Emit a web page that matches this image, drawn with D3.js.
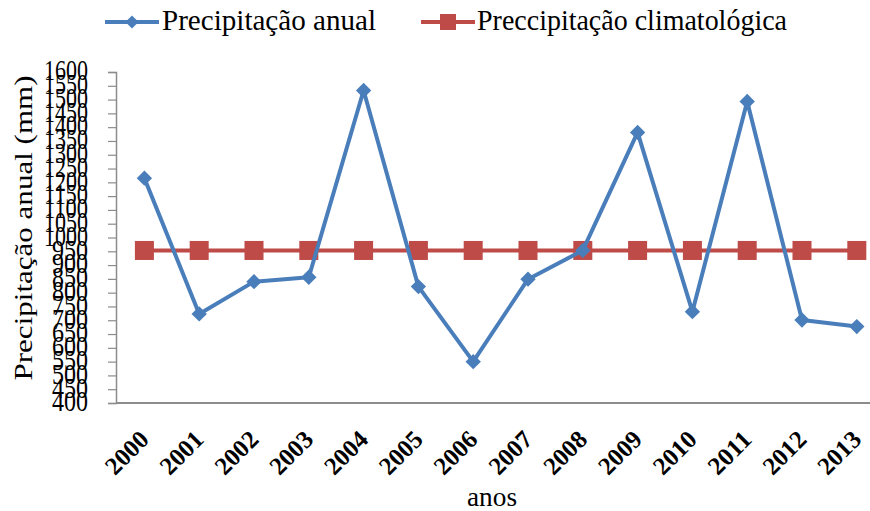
<!DOCTYPE html>
<html>
<head>
<meta charset="utf-8">
<script src="https://cdn.jsdelivr.net/npm/d3@7"></script>
<style>
  html, body { margin: 0; padding: 0; background: #fff; }
</style>
</head>
<body>
<div id="chart"></div>
<script>
// data
const years = ["2000", "2001", "2002", "2003", "2004", "2005", "2006",
  "2007", "2008", "2009", "2010", "2011", "2012", "2013"]
const annual = [1215, 723, 840, 856, 1533, 822, 550, 849, 953, 1381, 731, 1493, 701, 677]
const climatological = [953, 953, 953, 953, 953, 953, 953, 953, 953, 953, 953, 953, 953, 953]
const yTicks = [400, 450, 500, 550, 600, 650, 700, 750, 800, 850, 900, 950, 1000,
  1050, 1100, 1150, 1200, 1250, 1300, 1350, 1400, 1450, 1500, 1550, 1600]

const width = 870
const height = 511
const blue = "#4a7ebb"
const red = "#be4b48"
const axisColor = "#8c8c8c"
const serif = "'Liberation Serif', 'Times New Roman', Times, serif"

const svg = d3.select("#chart")
  .append("svg")
  .attr("width", width)
  .attr("height", height)
  .attr("font-family", serif)

svg.append("rect").attr("width", width).attr("height", height).attr("fill", "#fff")

// scales (the plot runs a little past the right edge, as in the picture)
const x = d3.scaleBand().domain(years).range([117, 117 + 14 * 54.8])
const cx = (d) => x(d) + x.bandwidth() / 2
const y = d3.scaleLinear().domain([400, 1600]).range([403, 72])

/*
 * ------------------------------------------------
 * Axes
 * ------------------------------------------------
 */
const yAxis = svg.append("g")
  .attr("transform", "translate(116,0)")
  .call(d3.axisLeft(y).tickValues(yTicks).tickSize(8).tickPadding(0).tickFormat(d3.format("d")))
  .attr("font-family", serif)

yAxis.select(".domain").attr("stroke", axisColor).attr("stroke-width", 1.5)
yAxis.selectAll(".tick line").attr("stroke", axisColor).attr("stroke-width", 1.2)
yAxis.selectAll(".tick text")
  .attr("x", 0)
  .attr("dy", null)
  .attr("text-anchor", "end")
  .attr("font-size", 22)
  .attr("fill", "#000")
  .attr("textLength", (d) => (d >= 1000 ? 44 : 36))
  .attr("lengthAdjust", "spacingAndGlyphs")
  .attr("transform", "translate(-28,0) scale(1,1.3) translate(0,6)")

svg.append("line")
  .attr("x1", 116).attr("x2", width)
  .attr("y1", y(400)).attr("y2", y(400))
  .attr("stroke", axisColor).attr("stroke-width", 2)

// rotated year labels
svg.append("g")
  .selectAll("text")
  .data(years)
  .join("text")
  .attr("transform", (d) => `translate(${cx(d) + 6},${y(400) + 38}) rotate(-45)`)
  .attr("text-anchor", "end")
  .attr("font-size", 25)
  .attr("font-weight", "bold")
  .attr("textLength", 50)
  .attr("lengthAdjust", "spacingAndGlyphs")
  .text((d) => d)

svg.append("text")
  .attr("transform", "translate(492,506) scale(1,1.2)")
  .attr("text-anchor", "middle")
  .attr("font-size", 23)
  .attr("textLength", 50)
  .attr("lengthAdjust", "spacingAndGlyphs")
  .text("anos")

svg.append("text")
  .attr("transform", "translate(32,228) rotate(-90)")
  .attr("text-anchor", "middle")
  .attr("font-size", 25)
  .attr("textLength", 305)
  .attr("lengthAdjust", "spacingAndGlyphs")
  .text("Precipitação anual (mm)")

/*
 * ------------------------------------------------
 * Series
 * ------------------------------------------------
 */
const line = d3.line().x((d, i) => cx(years[i])).y((d) => y(d))

svg.append("path")
  .datum(climatological)
  .attr("d", line)
  .attr("fill", "none")
  .attr("stroke", red)
  .attr("stroke-width", 4)

svg.append("g")
  .selectAll("rect")
  .data(climatological)
  .join("rect")
  .attr("x", (d, i) => cx(years[i]) - 9.5)
  .attr("y", (d) => y(d) - 9.5)
  .attr("width", 19)
  .attr("height", 19)
  .attr("fill", red)

svg.append("path")
  .datum(annual)
  .attr("d", line)
  .attr("fill", "none")
  .attr("stroke", blue)
  .attr("stroke-width", 4)
  .attr("stroke-linejoin", "round")

const diamond = d3.symbol().type(d3.symbolDiamond2).size(150)
svg.append("g")
  .selectAll("path")
  .data(annual)
  .join("path")
  .attr("transform", (d, i) => `translate(${cx(years[i])},${y(d)})`)
  .attr("d", diamond)
  .attr("fill", blue)

/*
 * ------------------------------------------------
 * Legend
 * ------------------------------------------------
 */
const legend = [
  { label: "Precipitação anual", color: blue, x: 105, textX: 162, textW: 214, shape: "diamond" },
  { label: "Preccipitação climatológica", color: red, x: 421, textX: 477, textW: 310, shape: "square" },
]

const lg = svg.append("g").selectAll("g").data(legend).join("g")
lg.append("line")
  .attr("x1", (d) => d.x).attr("x2", (d) => d.x + 54)
  .attr("y1", 22).attr("y2", 22)
  .attr("stroke", (d) => d.color).attr("stroke-width", 4)
lg.filter((d) => d.shape === "diamond")
  .append("path")
  .attr("transform", (d) => `translate(${d.x + 27},22)`)
  .attr("d", d3.symbol().type(d3.symbolDiamond2).size(110))
  .attr("fill", (d) => d.color)
lg.filter((d) => d.shape === "square")
  .append("rect")
  .attr("x", (d) => d.x + 19).attr("y", 14)
  .attr("width", 16).attr("height", 16)
  .attr("fill", (d) => d.color)
lg.append("text")
  .attr("transform", (d) => `translate(${d.textX},30) scale(1,1.2)`)
  .attr("font-size", 24)
  .attr("textLength", (d) => d.textW)
  .attr("lengthAdjust", "spacingAndGlyphs")
  .text((d) => d.label)
</script>
</body>
</html>
